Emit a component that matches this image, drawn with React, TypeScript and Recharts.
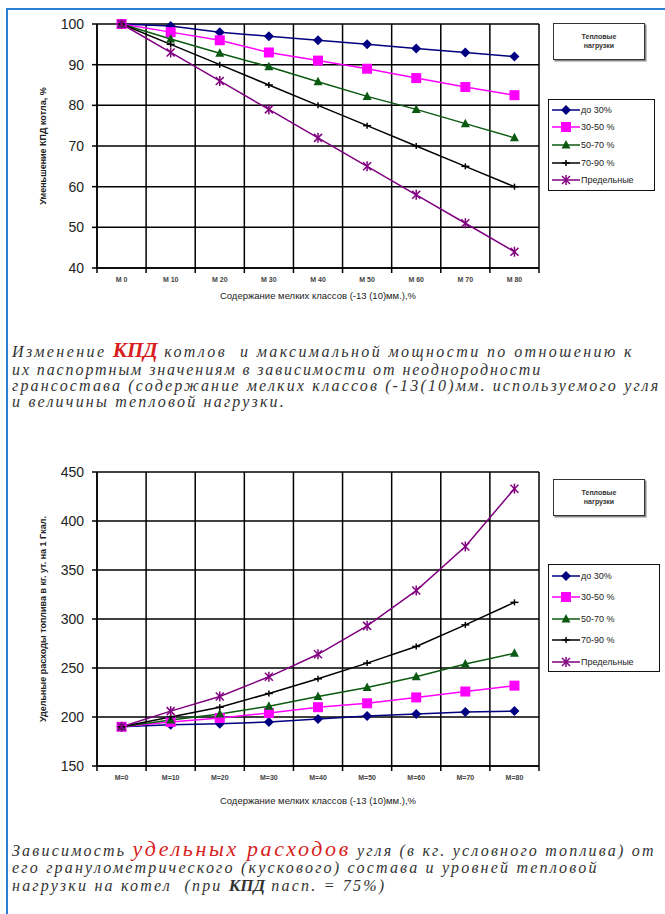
import { CartesianGrid, Line, LineChart, XAxis, YAxis } from 'recharts'

// categories (x axis)
const effCategories = ['М 0', 'М 10', 'М 20', 'М 30', 'М 40', 'М 50', 'М 60', 'М 70', 'М 80']
const rateCategories = ['М=0', 'М=10', 'М=20', 'М=30', 'М=40', 'М=50', 'М=60', 'М=70', 'М=80']

// chart 1: уменьшение КПД, %
const effUpTo30 = [100, 99.5, 98, 97, 96, 95, 94, 93, 92]
const eff30to50 = [100, 98, 96, 93, 91, 89, 86.7, 84.5, 82.5]
const eff50to70 = [100, 96.3, 92.8, 89.5, 85.8, 82.2, 79, 75.5, 72]
const eff70to90 = [100, 95, 90, 85, 80, 75, 70, 65, 60]
const effLimit = [100, 93, 86, 79, 72, 65, 58, 51, 44]

// chart 2: удельные расходы, кг у.т. на 1 Гкал
const rateUpTo30 = [190, 192, 193, 195, 198, 201, 203, 205, 206]
const rate30to50 = [190, 195, 199, 204, 210, 214, 220, 226, 232]
const rate50to70 = [190, 197, 203, 211, 221, 230, 241, 254, 265]
const rate70to90 = [190, 200, 210, 224, 239, 255, 272, 294, 317]
const rateLimit = [190, 206, 221, 241, 264, 293, 329, 374, 433]

const effTicks = [40, 50, 60, 70, 80, 90, 100]
const rateTicks = [150, 200, 250, 300, 350, 400, 450]

const seriesNames = ['до 30%', '30-50 %', '50-70 %', '70-90 %', 'Предельные']
const seriesKeys = ['s0', 's1', 's2', 's3', 's4']
const seriesColors = ['#000080', '#ff00ff', '#0b5a12', '#000000', '#800080']
const seriesMarkers = ['diamond', 'square', 'triangle', 'plus', 'star']

const boundaryTicks = [-0.5, 0.5, 1.5, 2.5, 3.5, 4.5, 5.5, 6.5, 7.5, 8.5]
const centerTicks = [0, 1, 2, 3, 4, 5, 6, 7, 8]

function buildRows(series: number[][]) {
  return series[0].map((_, i) => {
    const row: Record<string, number> = { x: i }
    series.forEach((vals, k) => {
      row[seriesKeys[k]] = vals[i]
    })
    return row
  })
}

const effData = buildRows([effUpTo30, eff30to50, eff50to70, eff70to90, effLimit])
const rateData = buildRows([rateUpTo30, rate30to50, rate50to70, rate70to90, rateLimit])

function Marker({ kind, color, x, y }: { kind: string; color: string; x: number; y: number }) {
  if (kind === 'diamond') {
    return <polygon points={`${x},${y - 5} ${x + 5},${y} ${x},${y + 5} ${x - 5},${y}`} fill={color} />
  }
  if (kind === 'square') {
    return <rect x={x - 5} y={y - 5} width={10} height={10} fill={color} />
  }
  if (kind === 'triangle') {
    return <polygon points={`${x},${y - 5} ${x + 4.5},${y + 3.5} ${x - 4.5},${y + 3.5}`} fill={color} />
  }
  if (kind === 'plus') {
    return (
      <g stroke={color} strokeWidth={1.5}>
        <line x1={x - 4} y1={y} x2={x + 4} y2={y} />
        <line x1={x} y1={y - 3} x2={x} y2={y + 3} />
      </g>
    )
  }
  return (
    <g stroke={color} strokeWidth={1.5}>
      <line x1={x - 4} y1={y - 4} x2={x + 4} y2={y + 4} />
      <line x1={x + 4} y1={y - 4} x2={x - 4} y2={y + 4} />
      <line x1={x} y1={y - 5} x2={x} y2={y + 5} />
    </g>
  )
}

function dotFor(kind: string, color: string) {
  return (props: any) => {
    const { cx, cy, index } = props
    if (cx == null || cy == null) return <g key={index} />
    return (
      <g key={index}>
        <Marker kind={kind} color={color} x={cx} y={cy} />
      </g>
    )
  }
}

const EmptyTick = () => <g />

// vertical grid lines sit on category boundaries
function boundaryLines(props: any) {
  const { xAxis, offset } = props
  if (xAxis && typeof xAxis.scale === 'function') {
    return boundaryTicks.map((t) => xAxis.scale(t))
  }
  return boundaryTicks.map((t) => offset.left + ((t + 0.5) / 9) * offset.width)
}

function LegendBox({ left, top, width, height, rowTops }: { left: number; top: number; width: number; height: number; rowTops: number[] }) {
  return (
    <div
      style={{
        position: 'absolute',
        left,
        top,
        width,
        height,
        border: '1.5px solid #111',
        boxSizing: 'border-box',
        background: '#fff',
      }}
    >
      {seriesNames.map((name, k) => (
        <div key={name} style={{ position: 'absolute', left: 3, top: rowTops[k] - top - 6, height: 12, display: 'flex', alignItems: 'center' }}>
          <svg width={28} height={12}>
            <line x1={0} y1={6} x2={28} y2={6} stroke={seriesColors[k]} strokeWidth={1.5} />
            <Marker kind={seriesMarkers[k]} color={seriesColors[k]} x={14} y={6} />
          </svg>
          <span style={{ fontSize: 9, color: '#222', marginLeft: 1, whiteSpace: 'nowrap' }}>{name}</span>
        </div>
      ))}
    </div>
  )
}

function TitleBox({ left, top }: { left: number; top: number }) {
  return (
    <div
      style={{
        position: 'absolute',
        left,
        top,
        width: 92,
        height: 37,
        border: '1.5px solid #333',
        boxShadow: '1.5px 1.5px 0 #888',
        boxSizing: 'border-box',
        background: '#fff',
        fontSize: 7,
        fontWeight: 700,
        color: '#333',
        textAlign: 'center',
        lineHeight: '9px',
        paddingTop: 8,
      }}
    >
      Тепловые
      <br />
      нагрузки
    </div>
  )
}

function KpdChart({ data, labels, ticks, domain, yTitle, labelAxisHeight, top, height, marginTop }: any) {
  return (
    <div style={{ position: 'absolute', left: 0, top }}>
      <LineChart width={545} height={height} data={data} margin={{ top: marginTop, right: 6, left: 0, bottom: 6 }}>
        <CartesianGrid stroke="#000" strokeWidth={1.5} verticalCoordinatesGenerator={boundaryLines} />
        <XAxis
          dataKey="x"
          type="number"
          domain={[-0.5, 8.5]}
          ticks={boundaryTicks}
          tick={EmptyTick}
          tickSize={5}
          height={6}
          stroke="#000"
          strokeWidth={1.5}
          interval={0}
        />
        <XAxis
          xAxisId="labels"
          dataKey="x"
          type="number"
          domain={[-0.5, 8.5]}
          ticks={centerTicks}
          tickFormatter={(v: number) => labels[v]}
          axisLine={false}
          tickLine={false}
          tickSize={0}
          tickMargin={3}
          interval={0}
          height={labelAxisHeight}
          tick={{ fontSize: 7, fill: '#444', fontWeight: 700 }}
          label={{
            value: 'Содержание мелких классов (-13 (10)мм.),%',
            position: 'insideBottom',
            offset: 0,
            style: { fontSize: 9.5, fill: '#222' },
          }}
        />
        <YAxis
          domain={domain}
          ticks={ticks}
          interval={0}
          width={97}
          tickSize={5}
          tickMargin={8}
          stroke="#000"
          strokeWidth={1.5}
          tick={{ fontSize: 14, fill: '#222' }}
          label={{
            value: yTitle,
            angle: -90,
            position: 'insideLeft',
            offset: 43,
            style: { textAnchor: 'middle', fontSize: 9, fontWeight: 700, fill: '#222' },
          }}
        />
        {seriesKeys.map((key, k) => (
          <Line
            key={key}
            dataKey={key}
            name={seriesNames[k]}
            stroke={seriesColors[k]}
            strokeWidth={1.5}
            dot={dotFor(seriesMarkers[k], seriesColors[k])}
            activeDot={false}
            isAnimationActive={false}
          />
        ))}
      </LineChart>
    </div>
  )
}

const captionStyle = {
  position: 'absolute' as const,
  left: 12,
  whiteSpace: 'nowrap' as const,
  fontFamily: '"Liberation Serif", serif',
  fontStyle: 'italic',
  fontSize: 16,
  lineHeight: '18px',
  letterSpacing: 2.2,
  color: '#333',
}

const redStyle = {
  color: '#d81e1e',
  fontWeight: 700,
  letterSpacing: 0,
}

export default function App() {
  return (
    <div
      style={{
        position: 'fixed',
        left: 0,
        top: 0,
        width: 665,
        height: 914,
        background: '#fff',
        overflow: 'hidden',
        fontFamily: '"Liberation Sans", Arial, sans-serif',
      }}
    >
      <div style={{ position: 'absolute', left: 6, top: 8, width: 2, height: 906, background: '#2a7fd4' }} />
      <div style={{ position: 'absolute', left: 6, top: 8, width: 659, height: 2, background: '#2a7fd4' }} />

      <KpdChart
        data={effData}
        labels={effCategories}
        ticks={effTicks}
        domain={[40, 100]}
        yTitle="Уменьшение КПД котла, %"
        labelAxisHeight={25}
        top={0}
        height={305}
        marginTop={24}
      />
      <TitleBox left={553} top={23} />
      <LegendBox left={548} top={99} width={107} height={92} rowTops={[109, 126, 144, 162, 179]} />

      <div style={{ ...captionStyle, top: 341, letterSpacing: 2.4 }}>
        Изменение <span style={{ ...redStyle, fontSize: 21 }}>КПД</span> котлов&nbsp; и максимальной мощности по отношению к
      </div>
      <div style={{ ...captionStyle, top: 361, letterSpacing: 1.9 }}>их паспортным значениям в зависимости от неоднородности</div>
      <div style={{ ...captionStyle, top: 377, letterSpacing: 2.15 }}>
        грансостава (содержание мелких классов (-13(10)мм. используемого угля
      </div>
      <div style={{ ...captionStyle, top: 393 }}>и величины тепловой нагрузки.</div>

      <KpdChart
        data={rateData}
        labels={rateCategories}
        ticks={rateTicks}
        domain={[150, 450]}
        yTitle="Удельные расходы топлива в кг. ут. на 1 Гкал."
        labelAxisHeight={32}
        top={440}
        height={370}
        marginTop={32}
      />
      <TitleBox left={553} top={479} />
      <LegendBox left={548} top={564} width={112} height={108} rowTops={[575, 596, 618, 639, 661]} />

      <div style={{ ...captionStyle, top: 840 }}>
        Зависимость <span style={{ ...redStyle, fontSize: 22, fontWeight: 400, letterSpacing: 2.6 }}>удельных расходов</span> угля (в кг. условного топлива) от
      </div>
      <div style={{ ...captionStyle, top: 859 }}>его гранулометрического (кускового) состава и уровней тепловой</div>
      <div style={{ ...captionStyle, top: 877 }}>
        нагрузки на котел&nbsp; (при <b style={{ fontSize: 17, letterSpacing: 0 }}>КПД</b> пасп. = 75%)
      </div>
    </div>
  )
}
